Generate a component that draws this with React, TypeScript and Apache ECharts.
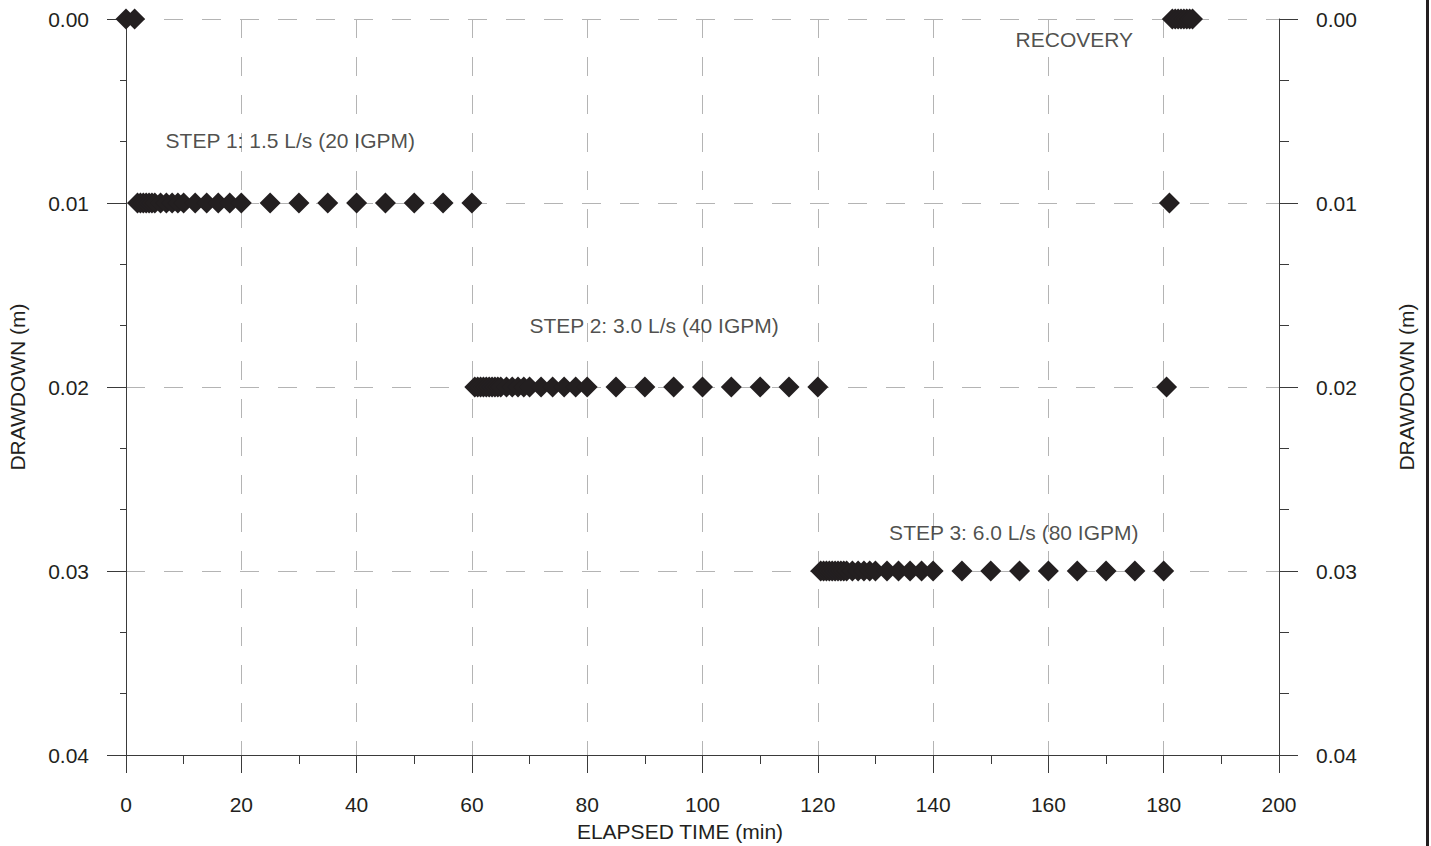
import React, { useEffect, useRef } from "react";
import * as echarts from "echarts";

// [elapsed time (min), drawdown (m)]
const preTestPoints: [number, number][] = [
  [0, 0.0], [1.5, 0.0],
];
const step1Points: [number, number][] = [
  [2, 0.01], [2.5, 0.01], [3, 0.01], [3.5, 0.01], [4, 0.01], [4.5, 0.01], [5, 0.01],
  [6, 0.01], [7, 0.01], [8, 0.01], [9, 0.01], [10, 0.01], [12, 0.01], [14, 0.01],
  [16, 0.01], [18, 0.01], [20, 0.01], [25, 0.01], [30, 0.01], [35, 0.01], [40, 0.01],
  [45, 0.01], [50, 0.01], [55, 0.01], [60, 0.01],
];
const step2Points: [number, number][] = [
  [60.5, 0.02], [61, 0.02], [61.5, 0.02], [62, 0.02], [62.5, 0.02], [63, 0.02], [63.5, 0.02],
  [64, 0.02], [64.5, 0.02], [65, 0.02], [66, 0.02], [67, 0.02], [68, 0.02], [69, 0.02],
  [70, 0.02], [72, 0.02], [74, 0.02], [76, 0.02], [78, 0.02], [80, 0.02], [85, 0.02],
  [90, 0.02], [95, 0.02], [100, 0.02], [105, 0.02], [110, 0.02], [115, 0.02], [120, 0.02],
];
const step3Points: [number, number][] = [
  [120.5, 0.03], [121, 0.03], [121.5, 0.03], [122, 0.03], [122.5, 0.03], [123, 0.03], [123.5, 0.03],
  [124, 0.03], [124.5, 0.03], [125, 0.03], [126, 0.03], [127, 0.03], [128, 0.03], [129, 0.03],
  [130, 0.03], [132, 0.03], [134, 0.03], [136, 0.03], [138, 0.03], [140, 0.03], [145, 0.03],
  [150, 0.03], [155, 0.03], [160, 0.03], [165, 0.03], [170, 0.03], [175, 0.03], [180, 0.03],
];
const recoveryPoints: [number, number][] = [
  [180.5, 0.02], [181, 0.01], [181.5, 0.0], [182, 0.0], [182.5, 0.0], [183, 0.0],
  [183.5, 0.0], [184, 0.0], [184.5, 0.0], [185, 0.0],
];

const annotationTexts = [
  "STEP 1: 1.5 L/s (20 IGPM)",
  "STEP 2: 3.0 L/s (40 IGPM)",
  "STEP 3: 6.0 L/s (80 IGPM)",
  "RECOVERY",
];
const annotationAt: [number, number][] = [
  [28.5, 0.00658],
  [91.6, 0.01668],
  [154, 0.02793],
  [164.5, 0.00114],
];

const xTitle = "ELAPSED TIME (min)";
const yTitle = "DRAWDOWN (m)";

const FONT = 'Arial, "Liberation Sans", sans-serif';
const INK = "#231f20";
const AXIS = "#3a3a3a";
const GRIDC = "#b4b4b4";
const FS = 21;

export default function App() {
  const ref = useRef<HTMLDivElement>(null);
  useEffect(() => {
    if (!ref.current) return;
    const chart = echarts.init(ref.current, undefined, { renderer: "svg" });
    const allPoints = [
      ...preTestPoints,
      ...step1Points,
      ...step2Points,
      ...step3Points,
      ...recoveryPoints,
    ];
    const yAxisCommon = {
      type: "value",
      min: 0,
      max: 0.04,
      interval: 0.01,
      inverse: true,
      axisLine: { show: true, lineStyle: { color: AXIS, width: 1 } },
      axisLabel: {
        show: true,
        margin: 37,
        color: INK,
        fontSize: FS,
        fontFamily: FONT,
        formatter: (v: number) => v.toFixed(2),
      },
    };
    chart.setOption({
      animation: false,
      backgroundColor: "#ffffff",
      textStyle: { fontFamily: FONT },
      grid: { left: 126, right: 152, top: 19, bottom: 91, containLabel: false },
      xAxis: {
        type: "value",
        min: 0,
        max: 200,
        interval: 20,
        axisLine: { show: true, onZero: false, lineStyle: { color: AXIS, width: 1 } },
        axisTick: { show: true, inside: false, length: 18, lineStyle: { color: AXIS } },
        minorTick: { show: true, splitNumber: 2, length: 9, lineStyle: { color: AXIS } },
        axisLabel: { margin: 39, color: INK, fontSize: FS, fontFamily: FONT },
        splitLine: { show: true, lineStyle: { color: GRIDC, type: [19, 19], width: 1 } },
      },
      yAxis: [
        {
          ...yAxisCommon,
          position: "left",
          axisTick: { show: true, inside: false, length: 19, lineStyle: { color: AXIS } },
          minorTick: { show: true, splitNumber: 3, length: 6, lineStyle: { color: AXIS } },
          splitLine: { show: true, lineStyle: { color: GRIDC, type: [19, 19], width: 1 } },
        },
        {
          ...yAxisCommon,
          position: "right",
          axisTick: { show: true, inside: false, length: 19, lineStyle: { color: AXIS } },
          minorTick: { show: true, splitNumber: 3, length: 10, lineStyle: { color: AXIS } },
          splitLine: { show: false },
        },
      ],
      series: [
        {
          type: "scatter",
          yAxisIndex: 0,
          symbol: "diamond",
          symbolSize: 21,
          itemStyle: { color: INK, opacity: 1 },
          data: allPoints,
          z: 5,
        },
        {
          type: "scatter",
          yAxisIndex: 0,
          symbolSize: 1,
          itemStyle: { color: "rgba(0,0,0,0)" },
          label: {
            show: true,
            position: "inside",
            formatter: (p: any) => p.name,
            color: INK,
            fontSize: FS,
            fontFamily: FONT,
          },
          data: annotationTexts.map((t, i) => ({ name: t, value: annotationAt[i] })),
          z: 6,
        },
      ],
      graphic: [
        {
          type: "text",
          x: 680,
          y: 831,
          style: { text: xTitle, fill: INK, fontSize: FS, fontFamily: FONT, align: "center", verticalAlign: "middle" },
        },
        {
          type: "text",
          x: 17,
          y: 387,
          rotation: Math.PI / 2,
          style: { text: yTitle, fill: INK, fontSize: FS, fontFamily: FONT, align: "center", verticalAlign: "middle" },
        },
        {
          type: "text",
          x: 1406,
          y: 387,
          rotation: Math.PI / 2,
          style: { text: yTitle, fill: INK, fontSize: FS, fontFamily: FONT, align: "center", verticalAlign: "middle" },
        },
        {
          type: "rect",
          shape: { x: 1426, y: 0, width: 3, height: 846 },
          style: { fill: INK },
        },
      ],
    });
    return () => chart.dispose();
  }, []);
  return (
    <div
      ref={ref}
      style={{ position: "fixed", left: 0, top: 0, width: 1431, height: 846, background: "#fff" }}
    />
  );
}
